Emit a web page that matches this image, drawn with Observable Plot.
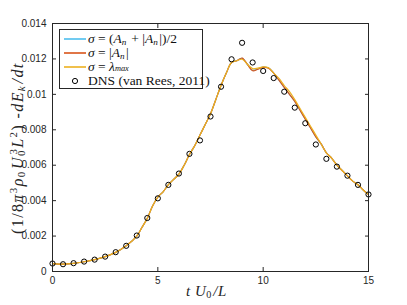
<!DOCTYPE html>
<html><head><meta charset="utf-8">
<script src="https://cdn.jsdelivr.net/npm/d3@7"></script>
<script src="https://cdn.jsdelivr.net/npm/@observablehq/plot@0.6"></script>
<style>
body{margin:0;background:#fff;}
#wrap{position:relative;width:407px;height:305px;}
.lab{position:absolute;font-family:"Liberation Serif","DejaVu Serif",serif;color:#262626;white-space:nowrap;}
.i{font-style:italic;}
#legend{position:absolute;left:59px;top:29px;width:144px;height:60px;border:1px solid #262626;background:#fff;box-sizing:border-box;}
.row{position:absolute;left:0;height:14px;font-family:"Liberation Serif","DejaVu Serif",serif;font-size:13.5px;color:#111;line-height:14px;}
.sw{position:absolute;left:4px;top:4px;}
.tx{position:absolute;left:28px;top:0;white-space:nowrap;}
sub,sup{font-size:68%;line-height:0;}
sub{margin-right:1.5px;vertical-align:-0.2em;}
sub.m{font-size:62%;vertical-align:-0.05em;}
</style></head>
<body><div id="wrap"></div>
<script>
const dnsT = [0,0.5,1,1.5,2,2.5,3,3.5,4,4.5,5,5.5,6,6.5,7,7.5,8,8.5,9,9.5,10,10.5,11,11.5,12,12.5,13,13.5,14,14.5,15];
const dnsV = [0.00045,0.00041,0.00047,0.00056,0.00067,0.00084,0.00109,0.00145,0.00203,0.00302,0.00413,0.00489,0.00553,0.00664,0.0074,0.00875,0.01043,0.01198,0.01291,0.0118,0.01132,0.01092,0.01015,0.00925,0.00837,0.00717,0.00636,0.00592,0.00541,0.00489,0.00435];
const curveT = [0,0.5,1,1.5,2,2.5,3,3.5,4,4.25,4.5,4.75,5,5.25,5.5,5.75,6,6.25,6.5,6.75,7,7.25,7.5,7.75,8,8.25,8.5,8.75,9,9.25,9.5,9.75,10,10.25,10.5,10.75,11,11.25,11.5,11.75,12,12.25,12.5,12.75,13,13.25,13.5,13.75,14,14.25,14.5,14.75,15];
const lamV = [0.00045,0.00042,0.00046,0.00055,0.00067,0.00084,0.00108,0.00145,0.002,0.0025,0.003,0.0037,0.0042,0.0045,0.0049,0.0052,0.0055,0.006,0.0066,0.0071,0.0077,0.0083,0.0089,0.0097,0.0105,0.0112,0.0118,0.0119,0.01198,0.0117,0.01145,0.01148,0.01155,0.0115,0.0112,0.0109,0.0105,0.01015,0.0097,0.0092,0.0087,0.0082,0.0077,0.0072,0.0067,0.0064,0.006,0.0057,0.0054,0.0051,0.0049,0.0046,0.00435];
const absV = [0.00045,0.00042,0.00046,0.00055,0.00067,0.00084,0.00108,0.00145,0.002,0.0025,0.003,0.0037,0.0042,0.0045,0.0049,0.0052,0.0055,0.006,0.0066,0.0071,0.0077,0.0083,0.0089,0.0097,0.0105,0.0112,0.0118,0.0119,0.01205,0.0117,0.01133,0.01142,0.01152,0.01148,0.0112,0.0108,0.0104,0.0100,0.0096,0.0091,0.0086,0.0081,0.0076,0.0072,0.0067,0.0064,0.006,0.0057,0.0054,0.0051,0.0049,0.0046,0.00435];
const halfV = [0.00045,0.00042,0.00046,0.00055,0.00067,0.00084,0.00108,0.00145,0.002,0.0025,0.003,0.0037,0.0042,0.0045,0.0049,0.0052,0.0055,0.006,0.0066,0.0071,0.0077,0.0083,0.0089,0.0097,0.0105,0.0112,0.0118,0.0119,0.01203,0.0117,0.01136,0.01144,0.01154,0.0115,0.0112,0.0108,0.0104,0.0100,0.0096,0.0091,0.0086,0.0081,0.0076,0.0072,0.0067,0.0064,0.006,0.0057,0.0054,0.0051,0.0049,0.0046,0.00435];
const xTicks = [0,5,10,15];
const yTicks = [0,0.002,0.004,0.006,0.008,0.01,0.012,0.014];
const seriesNames = ["σ = (A_n + |A_n|)/2","σ = |A_n|","σ = λ_max"];
const colors = ["#4DBEEE","#D95319","#EDB120"];

const curves = [halfV, absV, lamV].map((vals, k) => curveT.map((t, i) => ({t, v: vals[i], s: seriesNames[k]}))).flat();
const dns = dnsT.map((t, i) => ({t, v: dnsV[i]}));
const ink = "#262626";
const fmt = d => String(+d.toFixed(3));

const chart = Plot.plot({
  width: 407, height: 305,
  marginLeft: 52, marginRight: 39, marginTop: 23, marginBottom: 34,
  style: {fontFamily: "'Liberation Sans', Arial, sans-serif", fontSize: "10px", color: ink, background: "#fff"},
  x: {domain: [0, 15]},
  y: {domain: [0, 0.014]},
  color: {domain: seriesNames, range: colors},
  marks: [
    Plot.line(curves, {x: "t", y: "v", stroke: "s", z: "s", strokeWidth: 1.2, curve: "catmull-rom"}),
    Plot.dot(dns, {x: "t", y: "v", r: 2.6, stroke: "#000", strokeWidth: 1, fill: "none"}),
    Plot.frame({stroke: ink, strokeWidth: 1}),
    Plot.axisX(xTicks, {anchor: "bottom", tickSize: -4, tickPadding: 9, label: null, stroke: ink, fill: ink, tickFormat: fmt}),
    Plot.axisX(xTicks, {anchor: "top", tickSize: -4, text: null, label: null, stroke: ink}),
    Plot.axisY(yTicks, {anchor: "left", tickSize: -4, tickPadding: 10, label: null, stroke: ink, fill: ink, tickFormat: fmt}),
    Plot.axisY(yTicks, {anchor: "right", tickSize: -4, text: null, label: null, stroke: ink})
  ]
});
const wrap = document.getElementById("wrap");
wrap.appendChild(chart);

function mathHtml(s){
  return s.replace(/A_n/g, '<span class="i">A</span><sub class="i">n</sub>')
          .replace(/λ_max/g, '<span class="i">λ</span><sub class="i m">max</sub>')
          .replace(/σ/g, '<span class="i">σ</span>');
}
const leg = document.createElement("div");
leg.id = "legend";
seriesNames.forEach((n, k) => {
  const r = document.createElement("div");
  r.className = "row";
  r.style.top = (2 + k * 14) + "px";
  r.style.width = "140px";
  r.innerHTML = `<svg class="sw" width="22" height="6"><line x1="0" x2="22" y1="3" y2="3" stroke="${colors[k]}" stroke-width="1.6"/></svg><div class="tx">${mathHtml(n)}</div>`;
  leg.appendChild(r);
});
const r4 = document.createElement("div");
r4.className = "row";
r4.style.top = (2 + 3 * 14) + "px";
r4.style.width = "140px";
r4.innerHTML = `<svg style="position:absolute;left:10px;top:2px" width="10" height="10"><circle cx="5" cy="5" r="2.6" fill="none" stroke="#000" stroke-width="1"/></svg><div class="tx">DNS (van Rees, 2011)</div>`;
leg.appendChild(r4);
wrap.appendChild(leg);

const xl = document.createElement("div");
xl.className = "lab";
xl.style.cssText = "left:186px;top:283px;font-size:15px;letter-spacing:0.5px;";
xl.innerHTML = '<span class="i">t U</span><sub>0</sub><span class="i">/L</span>';
wrap.appendChild(xl);

const yl = document.createElement("div");
yl.className = "lab";
yl.style.cssText = "left:0;top:0;font-size:16px;letter-spacing:1.4px;transform-origin:0 0;";
yl.innerHTML = '(1/8<span class="i">π</span><sup>3</sup><span class="i">ρ</span><sub>0</sub><span class="i">U</span><sub>0</sub><sup style="margin-left:-7px">3</sup><span class="i">L</span><sup>2</sup>) -<span class="i">dE</span><sub class="i">k</sub><span class="i">/dt</span>';
wrap.appendChild(yl);
const w = yl.offsetWidth, h = yl.offsetHeight;
yl.style.transform = `translate(${18 - h / 2}px, ${148 + w / 2}px) rotate(-90deg)`;
</script>
</body></html>
